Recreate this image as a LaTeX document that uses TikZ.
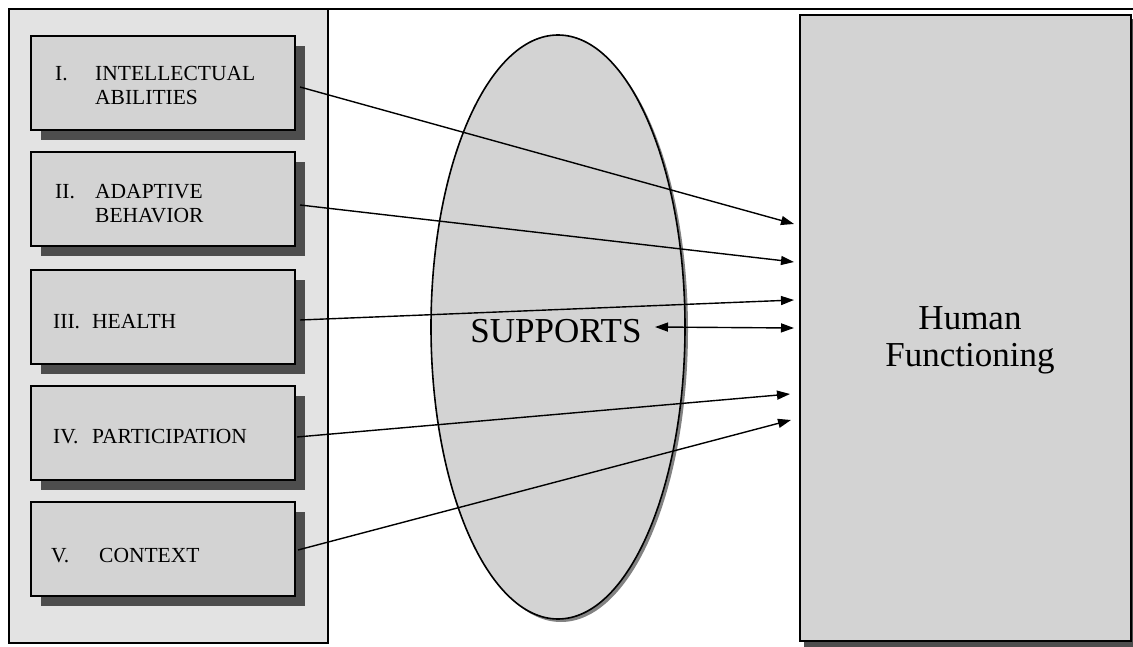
\documentclass[tikz,border=0pt]{standalone}
\usepackage{fontspec}
\setmainfont{Liberation Serif}
\usetikzlibrary{arrows.meta,shapes.geometric}
\definecolor{panelgray}{HTML}{E3E3E3}
\definecolor{boxgray}{HTML}{D3D3D3}
\definecolor{shadowgray}{HTML}{4D4D4D}
\tikzset{
  factorbox/.style={draw=black, line width=1.5pt, fill=boxgray, minimum width=264pt, minimum height=94pt, inner sep=0pt, outer sep=0pt},
  boxshadow/.style={fill=shadowgray, draw=none},
  factortext/.style={font=\fontsize{21.5}{24}\selectfont, anchor=base west, inner sep=0pt},
  conn/.style={line width=1.4pt, -{Triangle[length=13pt,width=9pt]}},
  dconn/.style={line width=1.4pt, {Triangle[length=13pt,width=9pt]}-{Triangle[length=13pt,width=9pt]}},
}
\begin{document}
\begin{tikzpicture}[x=1pt,y=-1pt]
\useasboundingbox (0,0) rectangle (1133,647);
% outer frame
\draw[line width=1.5pt] (9,9) -- (1133,9);
\node[draw=black, line width=2pt, fill=panelgray, minimum width=319pt, minimum height=634pt, inner sep=0pt, outer sep=0pt] (panel) at (168.5,326) {};
% factor boxes with shadows
\foreach \i/\y in {1/36,2/152,3/270,4/386,5/502}{
  \fill[boxshadow] (41,\y+10) rectangle (305,\y+104);
  \node[factorbox] (b\i) at (163,\y+47) {};
}
% factor texts (base lines)
\node[factortext] (t1a) at (55,81) {I.};
\node[factortext] (t1b) at (95,81) {INTELLECTUAL};
\node[factortext] (t1c) at (95,105) {ABILITIES};
\node[factortext] (t2a) at (55,199) {II.};
\node[factortext] (t2b) at (95,199) {ADAPTIVE};
\node[factortext] (t2c) at (95,223) {BEHAVIOR};
\node[factortext] (t3a) at (53,328) {III.};
\node[factortext] (t3b) at (92,328) {HEALTH};
\node[factortext] (t4a) at (53,443) {IV.};
\node[factortext] (t4b) at (92,443) {PARTICIPATION};
\node[factortext] (t5a) at (51,562) {V.};
\node[factortext] (t5b) at (99,562) {CONTEXT};
% supports ellipse
\fill[shadowgray!70] (561,330) ellipse [x radius=127, y radius=292];
\node[ellipse, draw=black, line width=1.6pt, fill=boxgray, minimum width=254pt, minimum height=584pt, inner sep=0pt] (sup) at (558,327) {};
\node[font=\fontsize{35}{40}\selectfont, inner sep=0pt] (suptext) at (556,331) {SUPPORTS};
% human functioning
\fill[shadowgray] (804,19) rectangle (1135,647);
\node[draw=black, line width=1.6pt, fill=boxgray, minimum width=331pt, minimum height=626pt, inner sep=0pt, outer sep=0pt] (hf) at (965.5,328) {};
\node[font=\fontsize{35}{37}\selectfont, align=center, inner sep=0pt] (hftext) at (970,340) {Human\\Functioning};
% connector end points
\coordinate (s1) at (300,87);
\coordinate (s2) at (300,205);
\coordinate (s3) at (300,320);
\coordinate (s4) at (297,437);
\coordinate (s5) at (298,550);
\coordinate (e1) at (794,224);
\coordinate (e2) at (794,262);
\coordinate (e3) at (794,300);
\coordinate (e4) at (790,394);
\coordinate (e5) at (791,420);
\coordinate (eS) at (794,328);
\coordinate (sS) at (655,327);
\draw[conn] (s1) -- (e1);
\draw[conn] (s2) -- (e2);
\draw[conn] (s3) -- (e3);
\draw[conn] (s4) -- (e4);
\draw[conn] (s5) -- (e5);
\draw[dconn] (sS) -- (eS);
\end{tikzpicture}
\end{document}
